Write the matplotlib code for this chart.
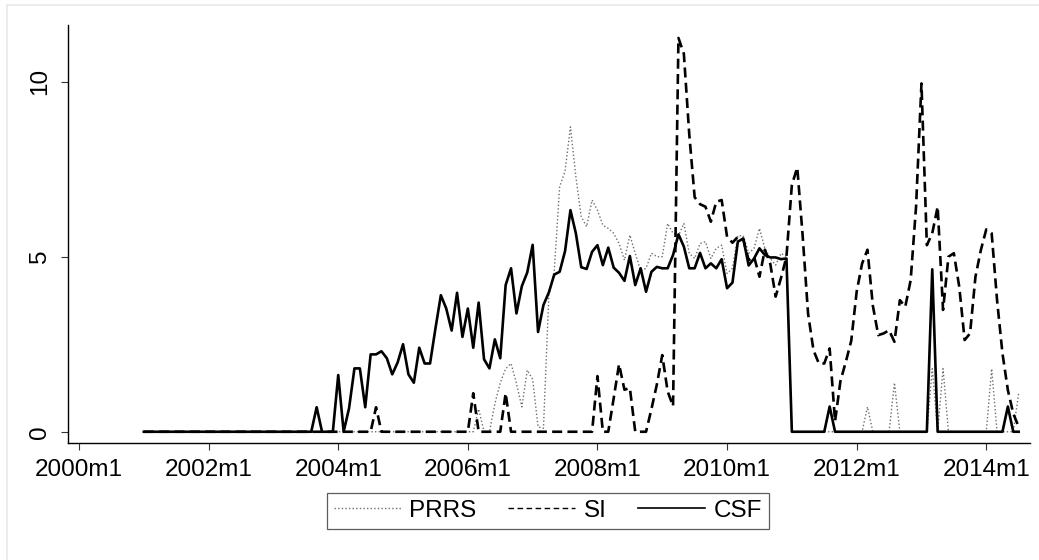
import matplotlib
matplotlib.use("Agg")
import matplotlib.pyplot as plt
from matplotlib.lines import Line2D
import numpy as np

# months since 2000m1; data runs 2001m1 (12) .. 2014m7 (174)
start_month = 12

prrs = (
    [0]*12 + [0]*12 + [0]*12 + [0]*12 + [0]*12 +                               # 2001-2005
    [0, 0, 0.65, 0, 0, 0.8, 1.4, 1.8, 1.95, 1.38, 0.71, 1.76] +                # 2006
    [1.5, 0.14, 0.1, 3.9, 4.6, 7.0, 7.45, 8.71, 7.29, 6.14, 5.86, 6.62] +      # 2007
    [6.33, 5.9, 5.81, 5.67, 5.38, 4.9, 5.62, 5.1, 4.6, 4.67, 5.1, 5.0] +       # 2008
    [5.0, 5.95, 5.67, 5.6, 5.95, 5.1, 4.95, 5.38, 5.43, 4.95, 5.24, 5.33] +    # 2009
    [4.52, 4.67, 5.6, 5.6, 5.1, 5.24, 5.81, 5.24, 4.95, 4.76, 5.1, 5.0] +      # 2010
    [0]*12 +                                                                   # 2011
    [0, 0, 0.71, 0, 0, 0, 0, 1.4, 0, 0, 0, 0] +                                # 2012
    [0, 0, 1.8, 0, 1.8, 0, 0, 0, 0, 0, 0, 0] +                                 # 2013
    [0, 1.8, 0, 0, 0, 0, 1.1]                                                  # 2014
)

si = (
    [0]*12 + [0]*12 + [0]*12 +                                                 # 2001-2003
    [0, 0, 0, 0, 0, 0, 0, 0.7, 0, 0, 0, 0] +                                   # 2004
    [0]*12 +                                                                   # 2005
    [0, 1.1, 0, 0, 0, 0, 0, 1.1, 0, 0, 0, 0] +                                 # 2006
    [0]*12 +                                                                   # 2007
    [1.59, 0, 0, 0.95, 1.93, 1.2, 1.25, 0, 0, 0, 0.65, 1.35] +                 # 2008
    [2.19, 1.15, 0.73, 11.25, 10.8, 8.5, 6.7, 6.5, 6.43, 6.0, 6.57, 6.62] +    # 2009
    [5.57, 5.4, 5.57, 5.5, 4.9, 5.0, 4.43, 5.2, 4.8, 3.86, 4.4, 5.0] +         # 2010
    [7.05, 7.55, 5.6, 3.38, 2.33, 1.95, 1.95, 2.38, 0.3, 1.45, 2.0, 2.6] +     # 2011
    [4.0, 4.8, 5.2, 3.6, 2.76, 2.81, 2.9, 2.57, 3.76, 3.57, 4.33, 6.43] +      # 2012
    [9.95, 5.33, 5.67, 6.43, 3.48, 5.0, 5.1, 4.14, 2.62, 2.81, 4.43, 5.19] +   # 2013
    [5.78, 5.67, 3.76, 2.24, 1.19, 0.52, 0.14]                                 # 2014
)

csf = (
    [0]*12 + [0]*12 +                                                          # 2001-2002
    [0, 0, 0, 0, 0, 0, 0, 0, 0.7, 0, 0, 0] +                                   # 2003
    [1.62, 0, 0.67, 1.81, 1.81, 0.7, 2.21, 2.21, 2.3, 2.1, 1.64, 1.98] +       # 2004
    [2.5, 1.64, 1.4, 2.4, 1.95, 1.95, 2.95, 3.9, 3.52, 2.89, 3.97, 2.71] +     # 2005
    [3.52, 2.4, 3.69, 2.07, 1.81, 2.64, 2.1, 4.19, 4.67, 3.38, 4.16, 4.55] +   # 2006
    [5.34, 2.85, 3.62, 3.98, 4.49, 4.57, 5.16, 6.33, 5.67, 4.7, 4.65, 5.14] +  # 2007
    [5.33, 4.76, 5.26, 4.69, 4.54, 4.31, 5.02, 4.19, 4.67, 4.0, 4.57, 4.71] +  # 2008
    [4.67, 4.67, 5.05, 5.64, 5.29, 4.67, 4.67, 5.11, 4.67, 4.81, 4.67, 4.93] + # 2009
    [4.1, 4.26, 5.43, 5.52, 4.75, 4.95, 5.24, 5.05, 4.98, 4.98, 4.93, 4.95] +  # 2010
    [0, 0, 0, 0, 0, 0, 0, 0.72, 0, 0, 0, 0] +                                  # 2011
    [0]*12 +                                                                   # 2012
    [0, 0, 4.64, 0, 0, 0, 0, 0, 0, 0, 0, 0] +                                  # 2013
    [0, 0, 0, 0, 0.72, 0, 0]                                                   # 2014
)

tick_months = [0, 24, 48, 72, 96, 120, 144, 168]
tick_labels = ["2000m1", "2002m1", "2004m1", "2006m1", "2008m1", "2010m1", "2012m1", "2014m1"]
y_ticks = [0, 5, 10]

months = np.arange(start_month, start_month + len(csf))

plt.rcParams['font.family'] = ['Liberation Sans', 'DejaVu Sans']
fs = 17.5

fig = plt.figure(figsize=(10.39, 5.60), dpi=100)
W, H = 1039, 560
ax = fig.add_axes([67.7 / W, 1 - 443.3 / H, (1030 - 67.7) / W, (443.3 - 25) / H])

ax.plot(months, prrs, color='#6e6e6e', lw=1.0, dashes=(1.0, 1.6), label='PRRS')
ax.plot(months, si, color='black', lw=1.9, dashes=(3.8, 2.0), label='SI')
ax.plot(months, csf, color='black', lw=1.9, label='CSF')

ax.set_xlim(-2.1, 176.1)
ax.set_ylim(-0.33, 11.62)
ax.set_xticks(tick_months)
ax.set_xticklabels(tick_labels)
ax.set_yticks(y_ticks)
ax.set_yticklabels([str(v) for v in y_ticks], rotation=90, va='center')
for s in ['top', 'right']:
    ax.spines[s].set_visible(False)
for s in ['left', 'bottom']:
    ax.spines[s].set_linewidth(1.0)
ax.tick_params(axis='both', length=5, width=0.8, labelsize=fs, color='#333333')
ax.tick_params(axis='x', pad=6)
ax.tick_params(axis='y', pad=7)

handles = [Line2D([], [], color='#6e6e6e', lw=1.0, dashes=(1.0, 1.6)),
           Line2D([], [], color='black', lw=1.0, dashes=(4, 2.5)),
           Line2D([], [], color='black', lw=1.2)]
leg = fig.legend(handles, ['PRRS', 'SI', 'CSF'], loc='upper center',
                 bbox_to_anchor=(548 / W, 1 - 492.7 / H), ncol=3, fontsize=fs,
                 frameon=True, fancybox=False, edgecolor='#333333',
                 handlelength=2.75, handletextpad=0.35, columnspacing=1.3,
                 borderpad=0.3, borderaxespad=0)
leg.get_frame().set_linewidth(0.9)

# faint outer graph-region border
fig.add_artist(Line2D([7 / W, 7 / W], [0, 1 - 5 / H], transform=fig.transFigure, color='#e4eaee', lw=1.2))
fig.add_artist(Line2D([7 / W, 1], [1 - 5 / H, 1 - 5 / H], transform=fig.transFigure, color='#e4eaee', lw=1.2))

fig.savefig('out.png', dpi=100)
